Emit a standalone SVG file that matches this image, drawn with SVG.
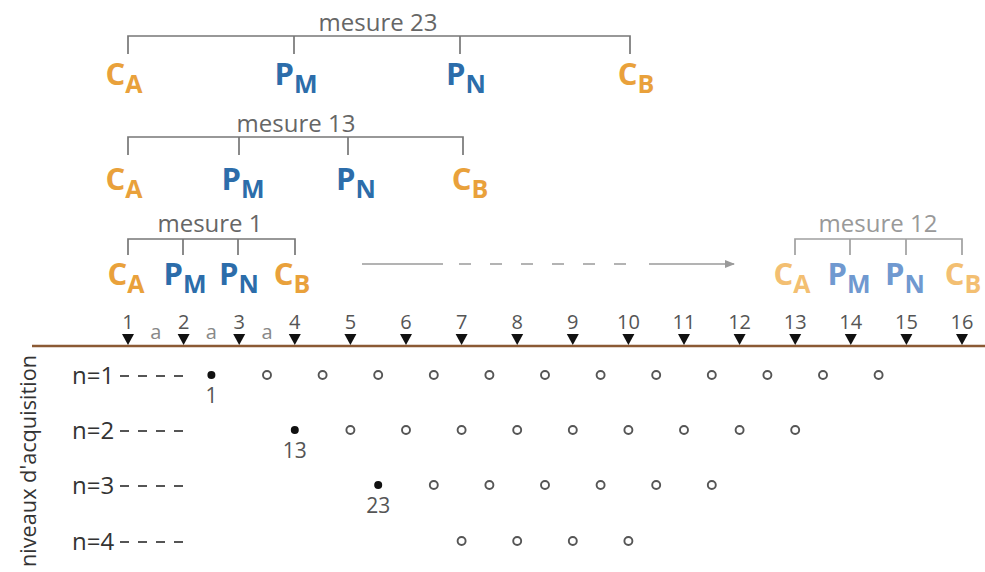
<svg xmlns="http://www.w3.org/2000/svg" width="985" height="572" viewBox="0 0 985 572">
<defs>
<style>
.t{font-family:"Open Sans","Noto Sans","Liberation Sans",sans-serif}
.ms{font-size:24px;fill:#666;text-anchor:middle}
.ms2{font-size:24px;fill:#999;text-anchor:middle}
.br{fill:none;stroke:#777;stroke-width:1.7}
.br2{fill:none;stroke:#a0a0a0;stroke-width:1.7}
.lab{font-size:31px;font-weight:bold;text-anchor:middle}
.sub{font-size:25px}
.o{fill:#E9A13B}.b{fill:#2C6DAA}.lo{fill:#F3BF72}.lb{fill:#7099D0}
.num{font-size:20px;fill:#555;text-anchor:middle}
.a{font-size:20px;fill:#888;text-anchor:middle}
.row{font-size:24px;fill:#333}
.dash{stroke:#555;stroke-width:1.8;stroke-dasharray:9 9}
.dot{fill:#111}
.c{fill:#fff;stroke:#555;stroke-width:1.9}
.dl{font-size:21px;fill:#555;text-anchor:middle}
</style>
<path id="tri" d="M-6,-11 L6,-11 L0,0 Z" fill="#111"/>
<marker id="ah" markerWidth="10" markerHeight="8" refX="9" refY="4" orient="auto" markerUnits="userSpaceOnUse">
<path d="M0,0 L10,4 L0,8 Z" fill="#9a9a9a"/>
</marker>
</defs>
<rect width="985" height="572" fill="#fff"/>

<g id="mesure23">
<text class="t ms" x="378" y="31">mesure 23</text>
<path class="br" d="M128,54 V36 H630 V54 M294,36 V54 M460,36 V54"/>
<text class="t lab o" x="124" y="85">C<tspan class="sub" dy="8">A</tspan></text>
<text class="t lab b" x="296" y="85">P<tspan class="sub" dy="8">M</tspan></text>
<text class="t lab b" x="466" y="85">P<tspan class="sub" dy="8">N</tspan></text>
<text class="t lab o" x="636" y="85">C<tspan class="sub" dy="8">B</tspan></text>
</g>

<g id="mesure13">
<text class="t ms" x="296" y="132">mesure 13</text>
<path class="br" d="M128,155 V137 H463 V155 M239,137 V155 M348,137 V155"/>
<text class="t lab o" x="124" y="190">C<tspan class="sub" dy="8">A</tspan></text>
<text class="t lab b" x="243" y="190">P<tspan class="sub" dy="8">M</tspan></text>
<text class="t lab b" x="356" y="190">P<tspan class="sub" dy="8">N</tspan></text>
<text class="t lab o" x="470" y="190">C<tspan class="sub" dy="8">B</tspan></text>
</g>

<g id="mesure1">
<text class="t ms" x="210" y="232">mesure 1</text>
<path class="br" d="M128,255 V239 H295 V255 M183,239 V255 M238,239 V255"/>
<text class="t lab o" x="126" y="285">C<tspan class="sub" dy="8">A</tspan></text>
<text class="t lab b" x="185" y="285">P<tspan class="sub" dy="8">M</tspan></text>
<text class="t lab b" x="239" y="285">P<tspan class="sub" dy="8">N</tspan></text>
<text class="t lab o" x="292" y="285">C<tspan class="sub" dy="8">B</tspan></text>
</g>

<g id="mesure12">
<text class="t ms2" x="878" y="232">mesure 12</text>
<path class="br2" d="M795,255 V239 H962 V255 M850,239 V255 M906,239 V255"/>
<text class="t lab lo" x="792" y="285">C<tspan class="sub" dy="8">A</tspan></text>
<text class="t lab lb" x="849" y="285">P<tspan class="sub" dy="8">M</tspan></text>
<text class="t lab lb" x="905" y="285">P<tspan class="sub" dy="8">N</tspan></text>
<text class="t lab lo" x="963" y="285">C<tspan class="sub" dy="8">B</tspan></text>
</g>

<g id="connectors">
<line x1="362" y1="264" x2="443" y2="264" stroke="#9a9a9a" stroke-width="1.5"/>
<line x1="459" y1="264" x2="640" y2="264" stroke="#9a9a9a" stroke-width="1.5" stroke-dasharray="12 19"/>
<line x1="649" y1="264" x2="734" y2="264" stroke="#9a9a9a" stroke-width="1.5" marker-end="url(#ah)"/>
</g>

<g id="axis">
<line x1="32" y1="346" x2="985" y2="346" stroke="#8B5A34" stroke-width="2.6"/>
<g class="t num">
<text x="128" y="329">1</text><text x="183.6" y="329">2</text><text x="239.2" y="329">3</text><text x="294.8" y="329">4</text>
<text x="350.4" y="329">5</text><text x="406" y="329">6</text><text x="461.6" y="329">7</text><text x="517.2" y="329">8</text>
<text x="572.8" y="329">9</text><text x="628.4" y="329">10</text><text x="684" y="329">11</text><text x="739.6" y="329">12</text>
<text x="795.2" y="329">13</text><text x="850.8" y="329">14</text><text x="906.4" y="329">15</text><text x="962" y="329">16</text>
</g>
<g class="t a">
<text x="155.8" y="339">a</text><text x="211.4" y="339">a</text><text x="267" y="339">a</text>
</g>
<use href="#tri" x="128" y="345"/><use href="#tri" x="183.6" y="345"/><use href="#tri" x="239.2" y="345"/><use href="#tri" x="294.8" y="345"/>
<use href="#tri" x="350.4" y="345"/><use href="#tri" x="406" y="345"/><use href="#tri" x="461.6" y="345"/><use href="#tri" x="517.2" y="345"/>
<use href="#tri" x="572.8" y="345"/><use href="#tri" x="628.4" y="345"/><use href="#tri" x="684" y="345"/><use href="#tri" x="739.6" y="345"/>
<use href="#tri" x="795.2" y="345"/><use href="#tri" x="850.8" y="345"/><use href="#tri" x="906.4" y="345"/><use href="#tri" x="962" y="345"/>
</g>

<g id="ylabel">
<text class="t" font-size="22" fill="#333" text-anchor="middle" textLength="212" lengthAdjust="spacingAndGlyphs" transform="translate(36,461) rotate(-90)">niveaux d'acquisition</text>
</g>

<g id="row-n1">
<text class="t row" x="72" y="384">n=1</text>
<line class="dash" x1="120" y1="376" x2="183" y2="376"/>
<circle class="dot" cx="211.4" cy="375" r="4"/>
<text class="t dl" x="211.4" y="403">1</text>
<circle class="c" cx="267" cy="375" r="4"/><circle class="c" cx="322.6" cy="375" r="4"/><circle class="c" cx="378.2" cy="375" r="4"/>
<circle class="c" cx="433.8" cy="375" r="4"/><circle class="c" cx="489.4" cy="375" r="4"/><circle class="c" cx="545" cy="375" r="4"/>
<circle class="c" cx="600.6" cy="375" r="4"/><circle class="c" cx="656.2" cy="375" r="4"/><circle class="c" cx="711.8" cy="375" r="4"/>
<circle class="c" cx="767.4" cy="375" r="4"/><circle class="c" cx="823" cy="375" r="4"/><circle class="c" cx="878.6" cy="375" r="4"/>
</g>

<g id="row-n2">
<text class="t row" x="72" y="439">n=2</text>
<line class="dash" x1="120" y1="431" x2="183" y2="431"/>
<circle class="dot" cx="294.8" cy="430" r="4"/>
<text class="t dl" x="294.8" y="458">13</text>
<circle class="c" cx="350.4" cy="430" r="4"/><circle class="c" cx="406" cy="430" r="4"/><circle class="c" cx="461.6" cy="430" r="4"/>
<circle class="c" cx="517.2" cy="430" r="4"/><circle class="c" cx="572.8" cy="430" r="4"/><circle class="c" cx="628.4" cy="430" r="4"/>
<circle class="c" cx="684" cy="430" r="4"/><circle class="c" cx="739.6" cy="430" r="4"/><circle class="c" cx="795.2" cy="430" r="4"/>
</g>

<g id="row-n3">
<text class="t row" x="72" y="494">n=3</text>
<line class="dash" x1="120" y1="486" x2="183" y2="486"/>
<circle class="dot" cx="378.2" cy="485" r="4"/>
<text class="t dl" x="378.2" y="513">23</text>
<circle class="c" cx="433.8" cy="485" r="4"/><circle class="c" cx="489.4" cy="485" r="4"/><circle class="c" cx="545" cy="485" r="4"/>
<circle class="c" cx="600.6" cy="485" r="4"/><circle class="c" cx="656.2" cy="485" r="4"/><circle class="c" cx="711.8" cy="485" r="4"/>
</g>

<g id="row-n4">
<text class="t row" x="72" y="550">n=4</text>
<line class="dash" x1="120" y1="542" x2="183" y2="542"/>
<circle class="c" cx="461.6" cy="541" r="4"/><circle class="c" cx="517.2" cy="541" r="4"/>
<circle class="c" cx="572.8" cy="541" r="4"/><circle class="c" cx="628.4" cy="541" r="4"/>
</g>
</svg>
